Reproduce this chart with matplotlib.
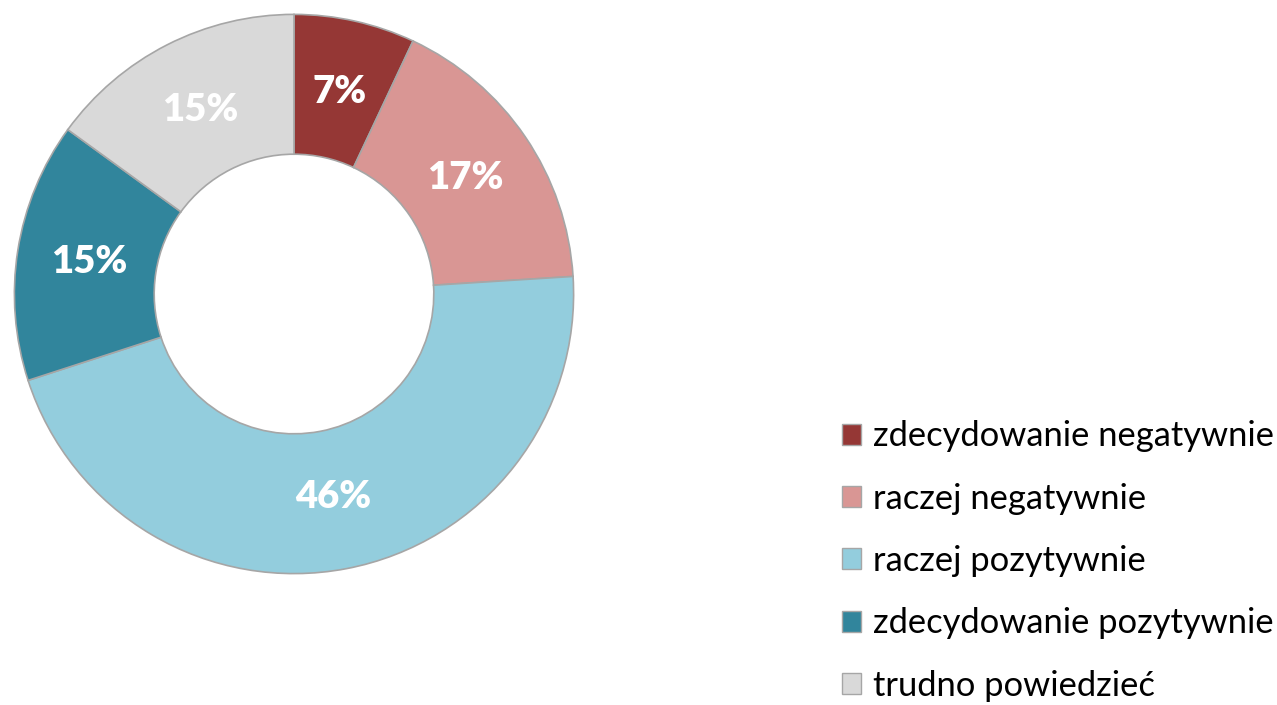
import numpy as np
import matplotlib.pyplot as plt
from matplotlib.patches import Patch

# dane
kategorie = ["zdecydowanie negatywnie", "raczej negatywnie", "raczej pozytywnie",
             "zdecydowanie pozytywnie", "trudno powiedzieć"]
wartosci = [7, 17, 46, 15, 15]
kolory = ["#953735", "#D99694", "#93CDDD", "#31859C", "#D9D9D9"]

plt.rcParams['font.family'] = ['Lato', 'DejaVu Sans']

W, H = 1277, 705
fig = plt.figure(figsize=(W / 100, H / 100), dpi=100)

# oś wykresu kołowego: środek (294, 294), promień 281 px
cx, cy, r = 294, 294, 281
ax = fig.add_axes([(cx - r) / W, (H - cy - r) / H, 2 * r / W, 2 * r / H])

wedges, _ = ax.pie(wartosci, colors=kolory, startangle=90, counterclock=False,
                   radius=1, wedgeprops=dict(width=0.5, edgecolor="#A6A6A6", linewidth=1.2))
ax.set_xlim(-1.005, 1.005)
ax.set_ylim(-1.005, 1.005)
ax.set_aspect("equal")
ax.axis("off")

for w, v in zip(wedges, wartosci):
    kat = np.deg2rad((w.theta1 + w.theta2) / 2)
    ax.text(0.74 * np.cos(kat), 0.74 * np.sin(kat), f"{v}%", ha="center", va="center",
            color="white", fontsize=27.5, fontweight="heavy")

uchwyty = [Patch(facecolor=k, edgecolor="#A6A6A6", label=n) for k, n in zip(kolory, kategorie)]
fig.legend(handles=uchwyty, loc="center left", bbox_to_anchor=(842 / W, 1 - 561 / H),
           frameon=False, fontsize=24.8, handlelength=0.55, handleheight=0.55,
           handletextpad=0.35, labelspacing=0.88, borderpad=0, borderaxespad=0)

fig.savefig("out.png", dpi=100)
